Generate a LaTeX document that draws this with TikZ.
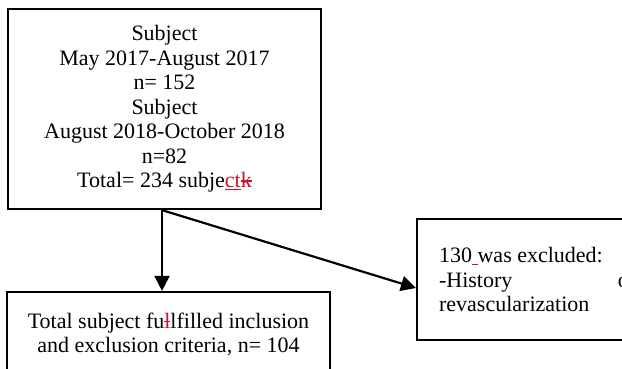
\documentclass[tikz,border=0pt]{standalone}
\usepackage{fontspec}
\setmainfont{Liberation Serif}
\usetikzlibrary{arrows.meta, positioning}
\definecolor{trackred}{RGB}{200,16,46}
% tracked changes: inserted (underlined) and deleted (struck) text
\newcommand\trackins[1]{\textcolor{trackred}{\underline{#1}}}
\newcommand\trackdel[1]{\leavevmode\setbox0\hbox{#1}\textcolor{trackred}{\rlap{\rule[0.28em]{\wd0}{0.06em}}\box0}}

\begin{document}
\begin{tikzpicture}
                [x=1pt, y=-1pt,
                font=\fontsize{22}{24.5}\selectfont,
                box/.style={
                    draw,
                    line width=2.2pt,
                    inner sep=0pt,
                    align=center
                },
                line/.style={
                    draw, line width=2.2pt, -{Triangle[length=15pt,width=15pt]}
                }
                ]
                \useasboundingbox (0,0) rectangle (622,368);
                \clip (0,0) rectangle (622,368);

                % Subject box
                \node[box, minimum width=313pt, minimum height=200pt] (subject) at (164.5,109)
                    {Subject\\May 2017-August 2017\\n= 152\\Subject\\August 2018-October 2018\\n=82\\
                    Total= 234 subje\trackins{ct}\trackdel{k}};

                % Included subjects
                \node[box, minimum width=323pt, minimum height=85pt] (incl) at (168.5,334.5)
                    {Total subject fu\trackdel{l}lfilled inclusion\\and exclusion criteria, n= 104};

                % Excluded subjects
                \node[box, anchor=west, minimum height=121pt, text width=197pt, inner xsep=22pt, align=justify] (excl) at (416,279.5)
                    {130\trackins{\ }was excluded:\\-History of \mbox{revascularization}};

                % Edges
                \path [line] ([xshift=-2.5pt]subject.south) -- ([xshift=-2.5pt]subject.south |- incl.north);
                \path [line] ([xshift=-2.5pt]subject.south) -- ([yshift=-8.5pt]excl.west);
\end{tikzpicture}
\end{document}
